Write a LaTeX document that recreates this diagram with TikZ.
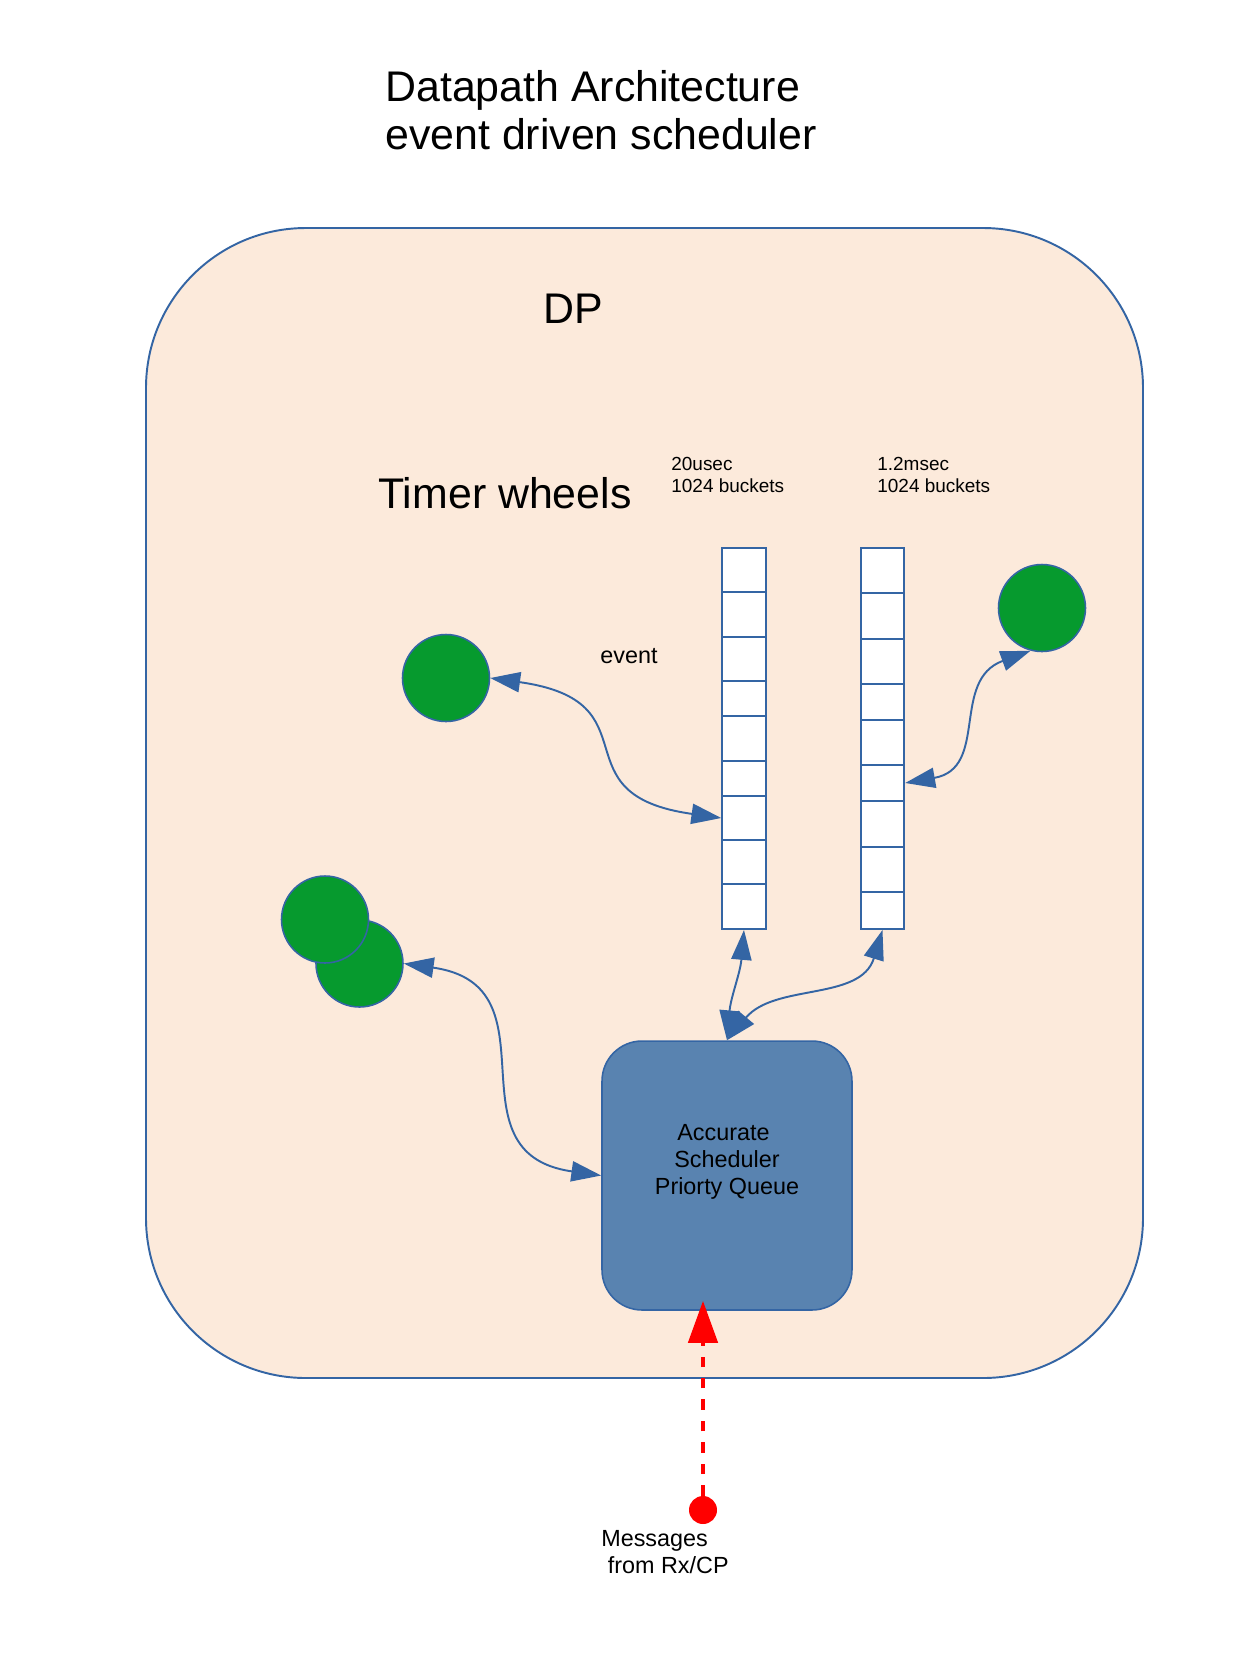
\documentclass[tikz,border=0pt]{standalone}
\usepackage{fontspec}
\setmainfont{Liberation Sans}
\usetikzlibrary{arrows.meta}
\definecolor{dpfill}{RGB}{252,234,219}
\definecolor{dpblue}{RGB}{52,101,164}
\definecolor{evgreen}{RGB}{6,154,46}
\definecolor{schedfill}{RGB}{89,131,176}
\definecolor{msgred}{RGB}{255,0,0}

\begin{document}
\begin{tikzpicture}[x=0.02cm, y=-0.02cm,
    dpbox/.style={draw=dpblue, fill=dpfill, line width=1.1pt, rounded corners=3.2cm},
    cell/.style={draw=dpblue, fill=white, line width=1.1pt, inner sep=0pt, minimum width=0.87cm},
    evcircle/.style={circle, draw=dpblue, fill=evgreen, line width=0.9pt, inner sep=0pt, minimum size=1.74cm},
    schedbox/.style={draw=dpblue, fill=schedfill, line width=0.9pt, rounded corners=0.8cm,
                     minimum width=5cm, minimum height=5.38cm},
    link/.style={dpblue, line width=1.1pt,
                 {Triangle[length=17pt, width=11.5pt]}-{Triangle[length=17pt, width=11.5pt]}},
    feed/.style={msgred, line width=2.8pt, dash pattern=on 6pt off 6.2pt,
                 -{Triangle[length=24pt, width=16.5pt]}},
    bigtext/.style={inner sep=0pt, font=\fontsize{24.4}{27.6}\selectfont},
    midtext/.style={inner sep=0pt, align=center, font=\fontsize{13.3}{15.3}\selectfont},
    smalltext/.style={inner sep=0pt, align=left, font=\fontsize{10.8}{12.5}\selectfont}]
  \useasboundingbox (0,0) rectangle (1244,1658);

  % title and the DP block (coordinates in px of the page)
  \node[bigtext, align=left, anchor=north west] (title) at (385,70)
    {Datapath Architecture\\event driven scheduler};
  \draw[dpbox] (146,228) rectangle (1143,1378);
  \node[bigtext] (dp) at (573,309) {DP};
  \node[bigtext] (wheels) at (505,493) {Timer wheels};
  \node[smalltext, anchor=north west] (w1lbl) at (671,457) {20usec\\1024 buckets};
  \node[smalltext, anchor=north west] (w2lbl) at (877,457) {1.2msec\\1024 buckets};

  % the two timer wheels: \a/\b = top/bottom of a bucket
  \foreach \a/\b [count=\i] in {548/592,592/637,637/681,681/716,716/761,761/796,796/840,840/884,884/929}
    \node[cell, minimum height={(\b-\a)*0.02cm}] (w1c\i) at (744,{(\a+\b)/2}) {};
  \foreach \a/\b [count=\i] in {548/593,593/639,639/684,684/720,720/765,765/801,801/847,847/892,892/929}
    \node[cell, minimum height={(\b-\a)*0.02cm}] (w2c\i) at (882.5,{(\a+\b)/2}) {};
  \node[midtext] (evlbl) at (629,656) {event};

  % events
  \node[evcircle] (ev1) at (446,678) {};
  \node[evcircle] (ev4) at (1042,608) {};
  \node[evcircle] (ev3) at (359.5,963.5) {};
  \node[evcircle] (ev2) at (325,919.5) {};

  % scheduler
  \node[schedbox] (sched) at (727,1175.5) {};
  \node[midtext] (schedlbl) at ([yshift=0.27cm]sched.center)
    {Accurate\hspace*{0.3em}\\Scheduler\\Priorty Queue};

  \draw[link] (ev1.east) to[out=-8, in=172, looseness=1.6] (w1c7.west);
  \draw[link] (w2c6.east) to[out=10, in=200, looseness=1.2] (ev4.255);
  \draw[link] (ev3.east) to[out=-8, in=172, looseness=1.4] (sched.west);
  \draw[link] (w1c9.south) to[out=-95, in=85] (sched.north);
  \draw[link] (w2c9.south) to[out=-107, in=50] (sched.north);

  % messages from outside
  \node[circle, fill=msgred, minimum size=0.56cm, inner sep=0pt] (msgdot) at (703,1510) {};
  \draw[feed, shorten >=-0.2cm] (msgdot.north) -- (msgdot |- sched.south);
  \node[midtext, align=left, anchor=north west] (msglbl) at (601,1530)
    {Messages\\\hspace*{0.28em}from Rx/CP};
\end{tikzpicture}
\end{document}
